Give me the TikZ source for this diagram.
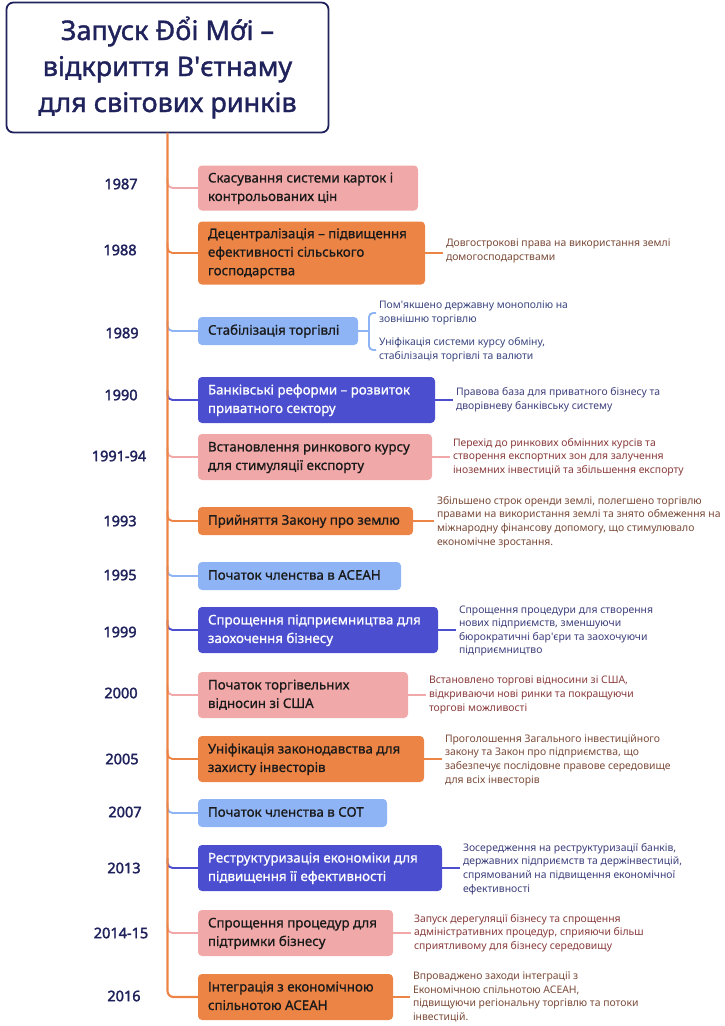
\documentclass[tikz,border=0pt]{standalone}
\usepackage{fontspec}
\setmainfont{Noto Sans}
\newfontfamily\titlefont{Noto Sans}[FakeBold=1.4]
\newfontfamily\boxfont{Noto Sans}[FakeBold=0.8]
\newfontfamily\annfont{Noto Sans}
\newfontfamily\yearfont{Noto Sans}[FakeBold=2.2]
\definecolor{pinkc}{HTML}{F1A8A8}
\definecolor{orangec}{HTML}{EC8446}
\definecolor{lbluec}{HTML}{8EB4F5}
\definecolor{indigoc}{HTML}{4B4FCF}
\definecolor{navyc}{HTML}{20225C}
\definecolor{annpink}{HTML}{8A3B3B}
\definecolor{annorange}{HTML}{7A4A38}
\definecolor{annindigo}{HTML}{3D3F7C}
\definecolor{annblue}{HTML}{3B4680}
\definecolor{darktext}{HTML}{1A1A1A}
\newcommand\bxt[2]{\makebox[#1][l]{\begin{tabular}{@{}l@{}}#2\end{tabular}}}
\begin{document}
\begin{tikzpicture}[x=1pt,y=-1pt,
  box/.style={rounded corners=4pt, draw=none, inner xsep=10pt, inner ysep=0pt, outer sep=0pt, anchor=west,
    font=\boxfont\fontsize{13.3}{18.5}\selectfont, text=darktext},
  pinkbox/.style={box, fill=pinkc},
  orangebox/.style={box, fill=orangec},
  bluebox/.style={box, fill=lbluec},
  indigobox/.style={box, fill=indigoc, text=white},
  ann/.style={anchor=west, inner sep=0pt, outer sep=0pt, align=left, font=\annfont\fontsize{10.4}{13.6}\selectfont},
  year/.style={font=\yearfont\fontsize{14.5}{16}\selectfont, text=navyc, inner sep=0pt},
  link/.style={line width=1.9pt, rounded corners=5pt},
  conn/.style={line width=1.9pt, shorten >=3pt}
]
\useasboundingbox (0,0) rectangle (725,1026);

% title
\node[draw=navyc, line width=1.8pt, rounded corners=7pt, fill=white, minimum width=322pt, minimum height=130pt,
  inner sep=0pt, outer sep=0pt, text=navyc, align=center, font=\titlefont\fontsize{27}{36}\selectfont]
  (title) at (167.5,67.5) {Запуск Đổi Mới –\\відкриття В'єтнаму\\для світових ринків};

% boxes
\node[pinkbox, minimum width=220pt, minimum height=45pt] (b1) at (198,188) {\bxt{200pt}{Скасування системи карток і\\контрольованих цін}};
\node[orangebox, minimum width=227pt, minimum height=63pt] (b2) at (198,253) {\bxt{207pt}{Децентралізація – підвищення\\ефективності сільського\\господарства}};
\node[bluebox, minimum width=160pt, minimum height=28pt] (b3) at (198,331) {\bxt{140pt}{Стабілізація торгівлі}};
\node[indigobox, minimum width=237pt, minimum height=46pt] (b4) at (198,400) {\bxt{217pt}{Банківські реформи – розвиток\\приватного сектору}};
\node[pinkbox, minimum width=234pt, minimum height=46pt] (b5) at (198,457) {\bxt{214pt}{Встановлення ринкового курсу\\для стимуляції експорту}};
\node[orangebox, minimum width=215pt, minimum height=28pt] (b6) at (198,521) {\bxt{195pt}{Прийняття Закону про землю}};
\node[bluebox, minimum width=203pt, minimum height=28pt] (b7) at (198,576) {\bxt{183pt}{Початок членства в АСЕАН}};
\node[indigobox, minimum width=240pt, minimum height=46pt] (b8) at (198,630) {\bxt{220pt}{Спрощення підприємництва для\\заохочення бізнесу}};
\node[pinkbox, minimum width=210pt, minimum height=46pt] (b9) at (198,695) {\bxt{190pt}{Початок торгівельних\\відносин зі США}};
\node[orangebox, minimum width=226pt, minimum height=46pt] (b10) at (198,759) {\bxt{206pt}{Уніфікація законодавства для\\захисту інвесторів}};
\node[bluebox, minimum width=189pt, minimum height=28pt] (b11) at (198,813) {\bxt{169pt}{Початок членства в СОТ}};
\node[indigobox, minimum width=244pt, minimum height=46pt] (b12) at (198,868) {\bxt{224pt}{Реструктуризація економіки для\\підвищення її ефективності}};
\node[pinkbox, minimum width=195pt, minimum height=46pt] (b13) at (198,933) {\bxt{175pt}{Спрощення процедур для\\підтримки бізнесу}};
\node[orangebox, minimum width=195pt, minimum height=46pt] (b14) at (198,997) {\bxt{175pt}{Інтеграція з економічною\\спільнотою АСЕАН}};

% years
\node[year] (y1) at (121,184) {1987};
\node[year] (y2) at (120,250) {1988};
\node[year] (y3) at (122,333) {1989};
\node[year] (y4) at (121,395) {1990};
\node[year] (y5) at (119,456) {1991-94};
\node[year] (y6) at (120,521) {1993};
\node[year] (y7) at (120,575) {1995};
\node[year] (y8) at (120,632) {1999};
\node[year] (y9) at (121,693) {2000};
\node[year] (y10) at (122,759) {2005};
\node[year] (y11) at (125,812) {2007};
\node[year] (y12) at (124,868) {2013};
\node[year] (y13) at (121,933) {2014-15};
\node[year] (y14) at (124,996) {2016};

% annotations
\node[ann, text=annorange] (a2) at (446,251) {Довгострокові права на використання землі\\домогосподарствами};
\node[ann, text=annblue] (a3a) at (379,313) {Пом'якшено державну монополію на\\зовнішню торгівлю};
\node[ann, text=annblue] (a3b) at (379,350) {Уніфікація системи курсу обміну,\\стабілізація торгівлі та валюти};
\node[ann, text=annindigo] (a4) at (456,400) {Правова база для приватного бізнесу та\\дворівневу банківську систему};
\node[ann, text=annpink] (a5) at (453,457) {Перехід до ринкових обмінних курсів та\\створення експортних зон для залучення\\іноземних інвестицій та збільшення експорту};
\node[ann, text=annorange] (a6) at (437,522) {Збільшено строк оренди землі, полегшено торгівлю\\правами на використання землі та знято обмеження на\\міжнародну фінансову допомогу, що стимулювало\\економічне зростання.};
\node[ann, text=annindigo] (a8) at (459,631) {Спрощення процедури для створення\\нових підприємств, зменшуючи\\бюрократичні бар'єри та заохочуючи\\підприємництво};
\node[ann, text=annpink] (a9) at (429,695) {Встановлено торгові відносини зі США,\\відкриваючи нові ринки та покращуючи\\торгові можливості};
\node[ann, text=annorange] (a10) at (445,760) {Проголошення Загального інвестиційного\\закону та Закон про підприємства, що\\забезпечує послідовне правове середовище\\для всіх інвесторів};
\node[ann, text=annindigo] (a12) at (463,869) {Зосередження на реструктуризації банків,\\державних підприємств та держінвестицій,\\спрямований на підвищення економічної\\ефективності};
\node[ann, text=annpink] (a13) at (414,933) {Запуск дерегуляції бізнесу та спрощення\\адміністративних процедур, сприяючи більш\\сприятливому для бізнесу середовищу};
\node[ann, text=annorange] (a14) at (413,997) {Впроваджено заходи інтеграції з\\Економічною спільнотою АСЕАН,\\підвищуючи регіональну торгівлю та потоки\\інвестицій.};

% branch points on the trunk
\coordinate (t1) at (167.5,178);
\coordinate (t2) at (167.5,243);
\coordinate (t3) at (167.5,321);
\coordinate (t4) at (167.5,390);
\coordinate (t5) at (167.5,447);
\coordinate (t6) at (167.5,511);
\coordinate (t7) at (167.5,566);
\coordinate (t8) at (167.5,620);
\coordinate (t9) at (167.5,685);
\coordinate (t10) at (167.5,749);
\coordinate (t11) at (167.5,803);
\coordinate (t12) at (167.5,858);
\coordinate (t13) at (167.5,923);

\draw[link, pinkc] (t1) |- (b1.west);
\draw[link, orangec] (t2) |- (b2.west);
\draw[link, lbluec] (t3) |- (b3.west);
\draw[link, indigoc] (t4) |- (b4.west);
\draw[link, pinkc] (t5) |- (b5.west);
\draw[link, orangec] (t6) |- (b6.west);
\draw[link, lbluec] (t7) |- (b7.west);
\draw[link, indigoc] (t8) |- (b8.west);
\draw[link, pinkc] (t9) |- (b9.west);
\draw[link, orangec] (t10) |- (b10.west);
\draw[link, lbluec] (t11) |- (b11.west);
\draw[link, indigoc] (t12) |- (b12.west);
\draw[link, pinkc] (t13) |- (b13.west);
% trunk
\draw[link, orangec, line width=2.1pt, rounded corners=6pt] (title.south) |- (b14.west);

% annotation connectors
\draw[conn, orangec] (b2.east) -- (b2.east -| a2.west);
\coordinate (br) at (369,331);
\draw[line width=1.9pt, lbluec] (b3.east) -- (br);
\draw[conn, lbluec, rounded corners=4pt] (br) |- (a3a.west);
\draw[conn, lbluec, rounded corners=4pt] (br) |- (a3b.west);
\draw[conn, indigoc] (b4.east) -- (b4.east -| a4.west);
\draw[conn, pinkc] (b5.east) -- (b5.east -| a5.west);
\draw[conn, orangec] (b6.east) -- (b6.east -| a6.west);
\draw[conn, indigoc] (b8.east) -- (b8.east -| a8.west);
\draw[conn, pinkc] (b9.east) -- (b9.east -| a9.west);
\draw[conn, orangec] (b10.east) -- (b10.east -| a10.west);
\draw[conn, indigoc] (b12.east) -- (b12.east -| a12.west);
\draw[conn, pinkc] (b13.east) -- (b13.east -| a13.west);
\draw[conn, orangec] (b14.east) -- (b14.east -| a14.west);
\end{tikzpicture}
\end{document}
